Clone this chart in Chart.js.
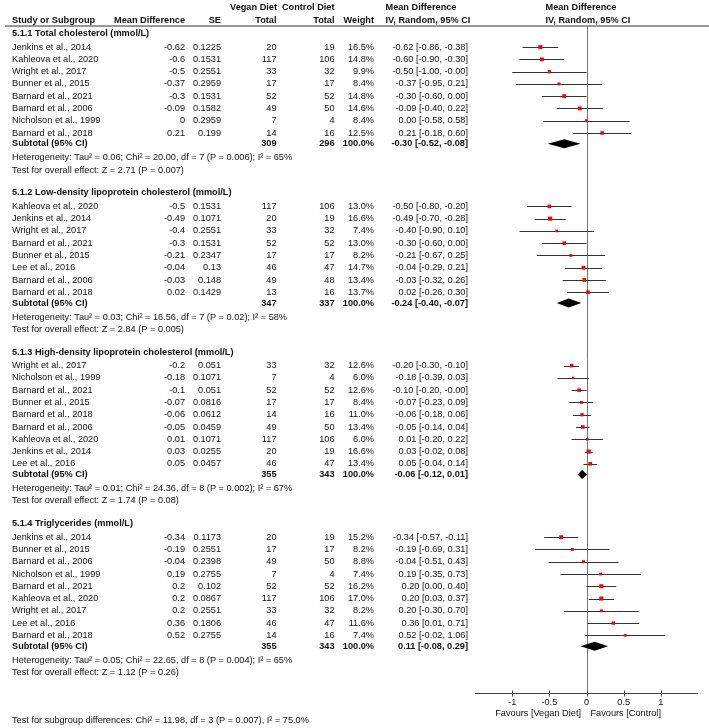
<!DOCTYPE html>
<html>
<head>
<meta charset="utf-8">
<script src="https://cdn.jsdelivr.net/npm/chart.js@4"></script>
<style>
  body { margin: 0; background: #fff; }
  canvas { display: block; }
</style>
</head>
<body>
<canvas id="forest" width="709" height="728"></canvas>
<script>
// subgroups
const groupNames = [
  '5.1.1 Total cholesterol (mmol/L)',
  '5.1.2 Low-density lipoprotein cholesterol (mmol/L)',
  '5.1.3 High-density lipoprotein cholesterol (mmol/L)',
  '5.1.4 Triglycerides (mmol/L)'
];

const studies = [
  ['Jenkins et al., 2014', 'Kahleova et al., 2020', 'Wright et al., 2017', 'Bunner et al., 2015', 'Barnard et al., 2021', 'Barnard et al., 2006', 'Nicholson et al., 1999', 'Barnard et al., 2018'],
  ['Kahleova et al., 2020', 'Jenkins et al., 2014', 'Wright et al., 2017', 'Barnard et al., 2021', 'Bunner et al., 2015', 'Lee et al., 2016', 'Barnard et al., 2006', 'Barnard et al., 2018'],
  ['Wright et al., 2017', 'Nicholson et al., 1999', 'Barnard et al., 2021', 'Bunner et al., 2015', 'Barnard et al., 2018', 'Barnard et al., 2006', 'Kahleova et al., 2020', 'Jenkins et al., 2014', 'Lee et al., 2016'],
  ['Jenkins et al., 2014', 'Bunner et al., 2015', 'Barnard et al., 2006', 'Nicholson et al., 1999', 'Barnard et al., 2021', 'Kahleova et al., 2020', 'Wright et al., 2017', 'Lee et al., 2016', 'Barnard et al., 2018']
];
const meanDiff = [
  [-0.62, -0.6, -0.5, -0.37, -0.3, -0.09, 0, 0.21],
  [-0.5, -0.49, -0.4, -0.3, -0.21, -0.04, -0.03, 0.02],
  [-0.2, -0.18, -0.1, -0.07, -0.06, -0.05, 0.01, 0.03, 0.05],
  [-0.34, -0.19, -0.04, 0.19, 0.2, 0.2, 0.2, 0.36, 0.52]
];
const stdErr = [
  [0.1225, 0.1531, 0.2551, 0.2959, 0.1531, 0.1582, 0.2959, 0.199],
  [0.1531, 0.1071, 0.2551, 0.1531, 0.2347, 0.13, 0.148, 0.1429],
  [0.051, 0.1071, 0.051, 0.0816, 0.0612, 0.0459, 0.1071, 0.0255, 0.0457],
  [0.1173, 0.2551, 0.2398, 0.2755, 0.102, 0.0867, 0.2551, 0.1806, 0.2755]
];
const veganTotal = [
  [20, 117, 33, 17, 52, 49, 7, 14],
  [117, 20, 33, 52, 17, 46, 49, 13],
  [33, 7, 52, 17, 14, 49, 117, 20, 46],
  [20, 17, 49, 7, 52, 117, 33, 46, 14]
];
const controlTotal = [
  [19, 106, 32, 17, 52, 50, 4, 16],
  [106, 19, 32, 52, 17, 47, 48, 16],
  [32, 4, 52, 17, 16, 50, 106, 19, 47],
  [19, 17, 50, 4, 52, 106, 32, 47, 16]
];
const weights = [
  [16.5, 14.8, 9.9, 8.4, 14.8, 14.6, 8.4, 12.5],
  [13.0, 16.6, 7.4, 13.0, 8.2, 14.7, 13.4, 13.7],
  [12.6, 6.0, 12.6, 8.4, 11.0, 13.4, 6.0, 16.6, 13.4],
  [15.2, 8.2, 8.8, 7.4, 16.2, 17.0, 8.2, 11.6, 7.4]
];
// -0 is printed as "-0.00" like in the original table
const ciLow = [
  [-0.86, -0.90, -1.00, -0.95, -0.60, -0.40, -0.58, -0.18],
  [-0.80, -0.70, -0.90, -0.60, -0.67, -0.29, -0.32, -0.26],
  [-0.30, -0.39, -0.20, -0.23, -0.18, -0.14, -0.20, -0.02, -0.04],
  [-0.57, -0.69, -0.51, -0.35, 0.00, 0.03, -0.30, 0.01, -0.02]
];
const ciHigh = [
  [-0.38, -0.30, -0, 0.21, 0.00, 0.22, 0.58, 0.60],
  [-0.20, -0.28, 0.10, 0.00, 0.25, 0.21, 0.26, 0.30],
  [-0.10, 0.03, -0, 0.09, 0.06, 0.04, 0.22, 0.08, 0.14],
  [-0.11, 0.31, 0.43, 0.73, 0.40, 0.37, 0.70, 0.71, 1.06]
];

// subtotals
const subVegan = [309, 347, 355, 355];
const subControl = [296, 337, 343, 343];
const subMD = [-0.30, -0.24, -0.06, 0.11];
const subLow = [-0.52, -0.40, -0.12, -0.08];
const subHigh = [-0.08, -0.07, 0.01, 0.29];
const heterogeneity = [
  'Heterogeneity: Tau\u00b2 = 0.06; Chi\u00b2 = 20.00, df = 7 (P = 0.006); I\u00b2 = 65%',
  'Heterogeneity: Tau\u00b2 = 0.03; Chi\u00b2 = 16.56, df = 7 (P = 0.02); I\u00b2 = 58%',
  'Heterogeneity: Tau\u00b2 = 0.01; Chi\u00b2 = 24.36, df = 8 (P = 0.002); I\u00b2 = 67%',
  'Heterogeneity: Tau\u00b2 = 0.05; Chi\u00b2 = 22.65, df = 8 (P = 0.004); I\u00b2 = 65%'
];
const overallEffect = [
  'Test for overall effect: Z = 2.71 (P = 0.007)',
  'Test for overall effect: Z = 2.84 (P = 0.005)',
  'Test for overall effect: Z = 1.74 (P = 0.08)',
  'Test for overall effect: Z = 1.12 (P = 0.26)'
];
const subgroupTest = 'Test for subgroup differences: Chi\u00b2 = 11.98, df = 3 (P = 0.007), I\u00b2 = 75.0%';

const tickValues = [-1, -0.5, 0, 0.5, 1];
const tickLabels = ['-1', '-0.5', '0', '0.5', '1'];
const favourLabels = ['Favours [Vegan Diet]', 'Favours [Control]'];

// row layout, in line units
const groupRow = [], studyRow = [], subRow = [], hetRow = [], testRow = [];
let r = 0.62;
groupNames.forEach((g, gi) => {
  groupRow.push(r);
  r += 1.1;
  studyRow.push(studies[gi].map((s, i) => (i === 0 ? r : (r += 1))));
  r += 0.88; subRow.push(r);
  r += 1.14; hetRow.push(r);
  r += 1.0; testRow.push(r);
  r += 1.86;
});
const subgroupRow = testRow[testRow.length - 1] + 3.89;

const fmt = v => (Object.is(v, -0) ? '-0.00' : v.toFixed(2));
const ciText = (m, lo, hi) => fmt(m) + ' [' + fmt(lo) + ', ' + fmt(hi) + ']';

const points = [], radii = [];
studies.forEach((list, gi) => list.forEach((s, i) => {
  points.push({ x: meanDiff[gi][i], y: studyRow[gi][i] });
  radii.push(Math.sqrt(weights[gi][i]) / Math.SQRT2);
}));

const COL = { name: 12, md: 185, se: 221, vegan: 276.5, control: 334.5, weight: 374, ci: 468, ciHead: 385.5, plotHead: 545.5 };

function txt(ctx, s, x, y, align, bold) {
  ctx.font = (bold ? 'bold ' : '') + '9.2px "Liberation Sans", Arial, sans-serif';
  ctx.textAlign = align;
  ctx.textBaseline = 'middle';
  ctx.fillStyle = '#111';
  ctx.fillText(s, x, y);
}

const forestPlugin = {
  id: 'forest',
  beforeDatasetsDraw(chart) {
    const { ctx, chartArea, scales: { x, y } } = chart;
    ctx.save();
    // header rule
    ctx.strokeStyle = '#333';
    ctx.lineWidth = 1.2;
    ctx.beginPath();
    ctx.moveTo(5, chartArea.top);
    ctx.lineTo(709, chartArea.top);
    ctx.stroke();
    // line of no effect
    const x0 = Math.round(x.getPixelForValue(0)) + 0.5;
    ctx.strokeStyle = '#777';
    ctx.lineWidth = 1;
    ctx.beginPath();
    ctx.moveTo(x0, chartArea.top);
    ctx.lineTo(x0, chartArea.bottom);
    ctx.stroke();
    // confidence intervals
    ctx.strokeStyle = '#333';
    studies.forEach((list, gi) => list.forEach((s, i) => {
      const py = Math.round(y.getPixelForValue(studyRow[gi][i])) + 0.5;
      ctx.beginPath();
      ctx.moveTo(x.getPixelForValue(ciLow[gi][i]), py);
      ctx.lineTo(x.getPixelForValue(ciHigh[gi][i]), py);
      ctx.stroke();
    }));
    // subtotal diamonds
    ctx.fillStyle = '#000';
    subMD.forEach((m, gi) => {
      const py = y.getPixelForValue(subRow[gi]);
      ctx.beginPath();
      ctx.moveTo(x.getPixelForValue(subLow[gi]), py);
      ctx.lineTo(x.getPixelForValue(m), py - 4.5);
      ctx.lineTo(x.getPixelForValue(subHigh[gi]), py);
      ctx.lineTo(x.getPixelForValue(m), py + 4.5);
      ctx.closePath();
      ctx.fill();
    });
    // x axis
    const ay = chartArea.bottom + 0.5;
    ctx.strokeStyle = '#444';
    ctx.beginPath();
    ctx.moveTo(chartArea.left, ay);
    ctx.lineTo(chartArea.right, ay);
    tickValues.forEach(v => {
      const tx = Math.round(x.getPixelForValue(v)) + 0.5;
      ctx.moveTo(tx, ay - 3);
      ctx.lineTo(tx, ay + 3);
    });
    ctx.stroke();
    ctx.restore();
  },
  afterDraw(chart) {
    const { ctx, scales: { x, y } } = chart;
    ctx.save();
    const h1 = y.getPixelForValue(-1.52), h2 = y.getPixelForValue(-0.43);
    txt(ctx, 'Vegan Diet', 277, h1, 'right', true);
    txt(ctx, 'Control Diet', COL.control, h1, 'right', true);
    txt(ctx, 'Mean Difference', COL.ciHead, h1, 'left', true);
    txt(ctx, 'Mean Difference', COL.plotHead, h1, 'left', true);
    txt(ctx, 'Study or Subgroup', COL.name, h2, 'left', true);
    txt(ctx, 'Mean Difference', COL.md, h2, 'right', true);
    txt(ctx, 'SE', COL.se, h2, 'right', true);
    txt(ctx, 'Total', COL.vegan, h2, 'right', true);
    txt(ctx, 'Total', COL.control, h2, 'right', true);
    txt(ctx, 'Weight', COL.weight, h2, 'right', true);
    txt(ctx, 'IV, Random, 95% CI', COL.ciHead, h2, 'left', true);
    txt(ctx, 'IV, Random, 95% CI', COL.plotHead, h2, 'left', true);

    groupNames.forEach((g, gi) => {
      txt(ctx, g, COL.name, y.getPixelForValue(groupRow[gi]), 'left', true);
      studies[gi].forEach((s, i) => {
        const py = y.getPixelForValue(studyRow[gi][i]);
        txt(ctx, s, COL.name, py, 'left');
        txt(ctx, String(meanDiff[gi][i]), COL.md, py, 'right');
        txt(ctx, String(stdErr[gi][i]), COL.se, py, 'right');
        txt(ctx, String(veganTotal[gi][i]), COL.vegan, py, 'right');
        txt(ctx, String(controlTotal[gi][i]), COL.control, py, 'right');
        txt(ctx, weights[gi][i].toFixed(1) + '%', COL.weight, py, 'right');
        txt(ctx, ciText(meanDiff[gi][i], ciLow[gi][i], ciHigh[gi][i]), COL.ci, py, 'right');
      });
      const sy = y.getPixelForValue(subRow[gi]);
      txt(ctx, 'Subtotal (95% CI)', COL.name, sy, 'left', true);
      txt(ctx, String(subVegan[gi]), COL.vegan, sy, 'right', true);
      txt(ctx, String(subControl[gi]), COL.control, sy, 'right', true);
      txt(ctx, '100.0%', COL.weight, sy, 'right', true);
      txt(ctx, ciText(subMD[gi], subLow[gi], subHigh[gi]), COL.ci, sy, 'right', true);
      txt(ctx, heterogeneity[gi], COL.name, y.getPixelForValue(hetRow[gi]), 'left');
      txt(ctx, overallEffect[gi], COL.name, y.getPixelForValue(testRow[gi]), 'left');
    });
    txt(ctx, subgroupTest, COL.name, y.getPixelForValue(subgroupRow), 'left');

    // axis labels
    const ty = chart.chartArea.bottom + 9.5;
    tickValues.forEach((v, i) => txt(ctx, tickLabels[i], x.getPixelForValue(v), ty, 'center'));
    const fy = chart.chartArea.bottom + 20;
    const zx = x.getPixelForValue(0);
    txt(ctx, favourLabels[0], zx - 5.5, fy, 'right');
    txt(ctx, favourLabels[1], zx + 4, fy, 'left');
    ctx.restore();
  }
};

new Chart(document.getElementById('forest'), {
  type: 'scatter',
  data: {
    datasets: [{
      data: points,
      pointStyle: 'rect',
      pointRadius: radii,
      backgroundColor: '#ff0000',
      borderWidth: 0,
      clip: false
    }]
  },
  options: {
    responsive: false,
    devicePixelRatio: 1,
    animation: false,
    events: [],
    layout: { padding: { left: 475, right: 11, top: 26, bottom: 35 } },
    plugins: { legend: { display: false }, tooltip: { enabled: false } },
    scales: {
      x: { type: 'linear', min: -1.5, max: 1.5, display: false },
      y: { type: 'linear', min: 0, max: 54.36, reverse: true, display: false }
    }
  },
  plugins: [forestPlugin]
});
</script>
</body>
</html>
